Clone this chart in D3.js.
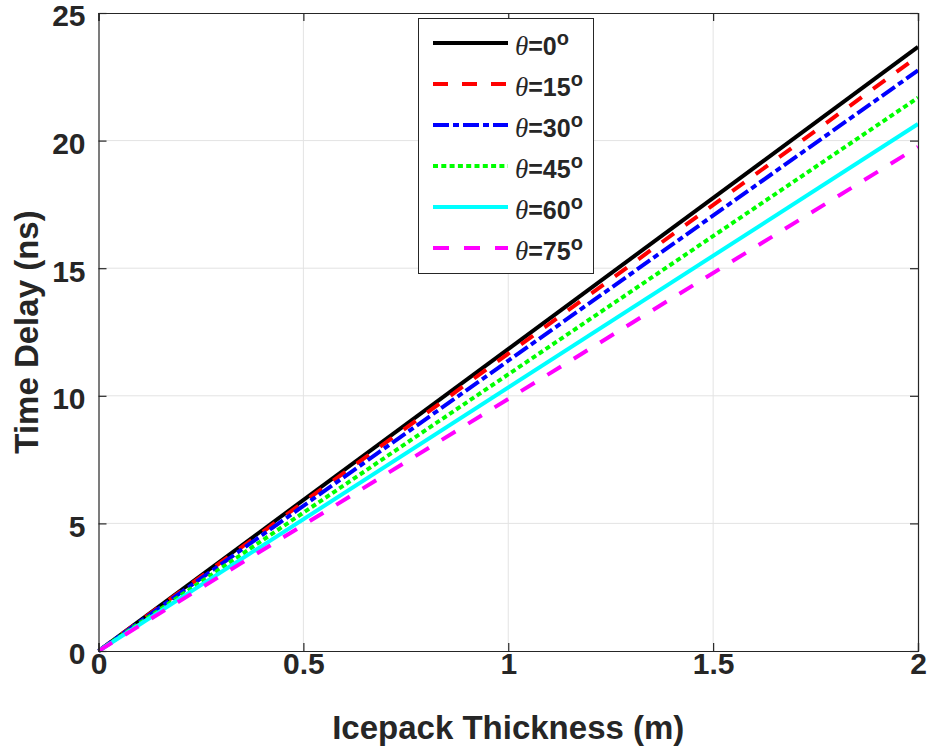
<!doctype html>
<html lang="en">
<head>
<meta charset="utf-8">
<script src="https://d3js.org/d3.v7.min.js"></script>
<style>
  body { margin: 0; background: #fff; }
  text { font-family: "Liberation Sans", Arial, sans-serif; font-weight: bold; fill: #262626; }
</style>
</head>
<body>
<div id="chart"></div>
<script>
// icepack thickness (m) -> time delay (ns), one series per incidence angle
var thickness = [0, 2];
var angles = [0, 15, 30, 45, 60, 75];
var delay0 = [0, 23.67];
var delay15 = [0, 23.30];
var delay30 = [0, 22.75];
var delay45 = [0, 21.68];
var delay60 = [0, 20.65];
var delay75 = [0, 19.75];
var xTicks = [0, 0.5, 1, 1.5, 2];
var yTicks = [0, 5, 10, 15, 20, 25];

var series = [delay0, delay15, delay30, delay45, delay60, delay75];
var colors = ["#000000", "#ff0000", "#0000ff", "#00ff00", "#00ffff", "#ff00ff"];
var dashes = [null, "15,14", "16,4,6,4", "5,3.3", null, "16,15"];

var W = 930, H = 750;
var m = {left: 98.5, top: 13, right: 918, bottom: 651};

var svg = d3.select("#chart").append("svg")
    .attr("width", W).attr("height", H);

var x = d3.scaleLinear().domain([0, 2]).range([m.left, m.right]);
var y = d3.scaleLinear().domain([0, 25]).range([m.bottom, m.top]);

// grid
svg.append("g").selectAll("line").data(xTicks.slice(1, -1)).enter().append("line")
    .attr("x1", function (d) { return x(d); }).attr("x2", function (d) { return x(d); })
    .attr("y1", m.top).attr("y2", m.bottom)
    .attr("stroke", "#e3e3e3").attr("stroke-width", 1);
svg.append("g").selectAll("line").data(yTicks.slice(1, -1)).enter().append("line")
    .attr("y1", function (d) { return y(d); }).attr("y2", function (d) { return y(d); })
    .attr("x1", m.left).attr("x2", m.right)
    .attr("stroke", "#e3e3e3").attr("stroke-width", 1);

// lines
var line = d3.line()
    .x(function (d, i) { return x(thickness[i]); })
    .y(function (d) { return y(d); });

svg.append("g").selectAll("path").data(series).enter().append("path")
    .attr("d", line)
    .attr("fill", "none")
    .attr("stroke", function (d, i) { return colors[i]; })
    .attr("stroke-width", 4)
    .attr("stroke-dasharray", function (d, i) { return dashes[i]; });

// axes
var xAxis = d3.axisBottom(x).tickValues(xTicks).tickSize(-8).tickPadding(23)
    .tickFormat(function (d) { return d; });
var yAxis = d3.axisLeft(y).tickValues(yTicks).tickSize(-8).tickPadding(13)
    .tickFormat(function (d) { return d; });

var gx = svg.append("g").attr("transform", "translate(0," + m.bottom + ")").call(xAxis);
var gy = svg.append("g").attr("transform", "translate(" + m.left + ",0)").call(yAxis);
var gx2 = svg.append("g").attr("transform", "translate(0," + m.top + ")")
    .call(d3.axisTop(x).tickValues(xTicks).tickSize(-8).tickFormat(""));
var gy2 = svg.append("g").attr("transform", "translate(" + m.right + ",0)")
    .call(d3.axisRight(y).tickValues(yTicks).tickSize(-8).tickFormat(""));

[gx, gy, gx2, gy2].forEach(function (g) {
    g.select(".domain").attr("stroke", "#262626").attr("stroke-width", 1.2);
    g.selectAll(".tick line").attr("stroke", "#262626").attr("stroke-width", 1.2);
    g.selectAll("text").style("font-size", "30px").attr("fill", "#262626")
        .style("font-family", "'Liberation Sans', Arial, sans-serif").style("font-weight", "bold");
});
gx.selectAll("text").attr("dy", "0");
gy.selectAll("text").attr("dy", "0.43em");

// axis labels
svg.append("text")
    .attr("x", (m.left + m.right) / 2).attr("y", 739)
    .attr("text-anchor", "middle")
    .style("font-size", "33px")
    .text("Icepack Thickness (m)");

svg.append("text")
    .attr("transform", "translate(38," + ((m.top + m.bottom) / 2) + ") rotate(-90)")
    .attr("text-anchor", "middle")
    .style("font-size", "33px")
    .text("Time Delay (ns)");

// legend
var lg = svg.append("g");
lg.append("rect")
    .attr("x", 418.5).attr("y", 18.5).attr("width", 175).attr("height", 255)
    .attr("fill", "#fff").attr("stroke", "#262626").attr("stroke-width", 1);

var rows = lg.selectAll("g.row").data(angles).enter().append("g")
    .attr("transform", function (d, i) { return "translate(0," + (43 + i * 41) + ")"; });

rows.append("line")
    .attr("x1", 433).attr("x2", 508).attr("y1", 0).attr("y2", 0)
    .attr("stroke", function (d, i) { return colors[i]; })
    .attr("stroke-width", 4)
    .attr("stroke-dasharray", function (d, i) { return dashes[i]; });

var t = rows.append("text").attr("x", 515).attr("y", 12).style("font-size", "25px");
t.append("tspan")
    .style("font-family", "'Liberation Serif', 'Times New Roman', serif")
    .style("font-style", "italic").style("font-weight", "normal")
    .style("font-size", "27px")
    .text("\u03b8");
t.append("tspan").text(function (d) { return "=" + d; });
t.append("tspan").attr("dy", -10).style("font-size", "20px").text("o");
</script>
</body>
</html>
